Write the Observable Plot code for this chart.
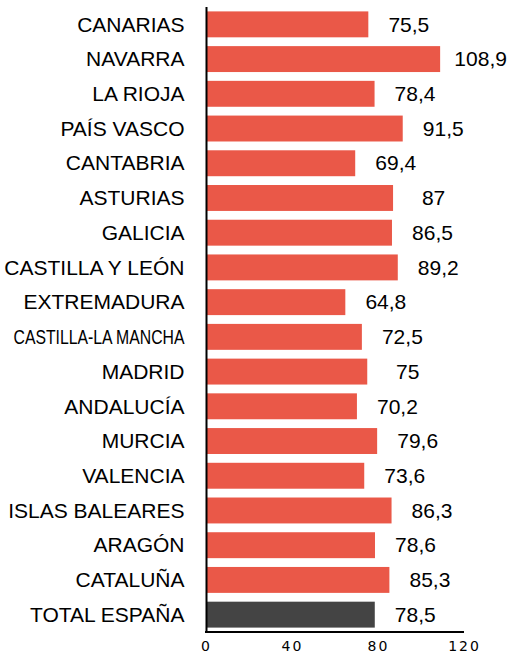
<!DOCTYPE html>
<html><head><meta charset="utf-8">
<script src="https://cdn.jsdelivr.net/npm/d3@7"></script>
<script src="https://cdn.jsdelivr.net/npm/@observablehq/plot@0.6"></script>
<style>body{margin:0;background:#fff}</style>
</head><body><div id="chart"></div>
<script>
const regions = ["CANARIAS","NAVARRA","LA RIOJA","PAÍS VASCO","CANTABRIA","ASTURIAS","GALICIA","CASTILLA Y LEÓN","EXTREMADURA","CASTILLA-LA MANCHA","MADRID","ANDALUCÍA","MURCIA","VALENCIA","ISLAS BALEARES","ARAGÓN","CATALUÑA","TOTAL ESPAÑA"];
const values = [75.5,108.9,78.4,91.5,69.4,87,86.5,89.2,64.8,72.5,75,70.2,79.6,73.6,86.3,78.6,85.3,78.5];
const xTicks = [0,40,80,120];
const totalName = "TOTAL ESPAÑA";
const data = regions.map((r,i)=>({region:r, value:values[i]}));
const fmt = v => String(v).replace(".", ",");

const plot = Plot.plot({
  width: 512, height: 656,
  marginTop: 7, marginBottom: 24, marginLeft: 206, marginRight: 48,
  style: {fontFamily: "'Liberation Sans', Arial, sans-serif", background: "#fff"},
  x: {domain: [0,120], ticks: xTicks, axis: null, label: null},
  y: {domain: regions, padding: 0, round: false, axis: null, label: null},
  marks: [
    Plot.barX(data, {x: "value", y: "region", insetTop: 4.4, insetBottom: 4.4, fill: d => d.region === totalName ? "#444444" : "#EA5848"}),
    Plot.text(data, {x: "value", y: "region", text: d => fmt(d.value), dx: 40, textAnchor: "middle", fontSize: 21, fill: "#000"}),
    Plot.axisY({tickSize: 0, tickPadding: 22, fontSize: 21, fill: "#000", label: null}),
    Plot.axisX({ticks: xTicks, tickSize: 0, tickPadding: 9, fontSize: 14, fill: "#000", fontFamily: "'DejaVu Sans', sans-serif", label: null}),
    Plot.ruleX([0], {stroke: "#000", strokeWidth: 2})
  ]
});
const svg = d3.select(plot);
const xs = plot.scale("x");
const yr = plot.scale("y").range;
svg.append("line")
  .attr("x1", xs.apply(0) - 1).attr("x2", xs.apply(120))
  .attr("y1", yr[1]).attr("y2", yr[1])
  .attr("stroke", "#000").attr("stroke-width", 2);
svg.selectAll("text").filter(function(){return this.textContent === "CASTILLA-LA MANCHA";})
  .attr("textLength", 171).attr("lengthAdjust", "spacingAndGlyphs");
svg.selectAll("[aria-label='x-axis tick label'] text").style("letter-spacing", "2px");
document.getElementById("chart").appendChild(plot);
</script>
</body></html>
